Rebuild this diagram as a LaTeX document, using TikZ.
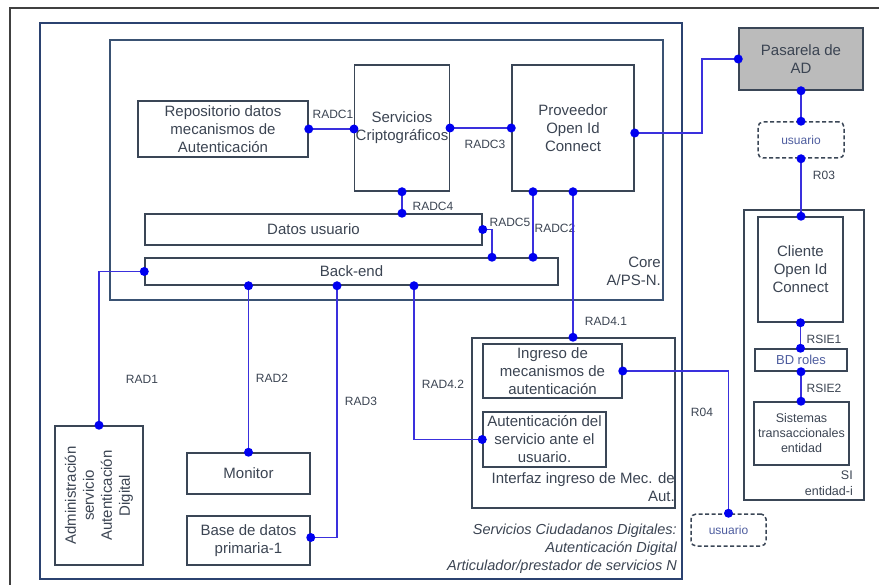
\documentclass[tikz,border=0pt]{standalone}
\usepackage{fontspec}
\setmainfont{Liberation Sans}
\usetikzlibrary{positioning}
\definecolor{txtcol}{HTML}{3B4452}
\definecolor{boxcol}{HTML}{3A4656}
\definecolor{framecol}{HTML}{2B4270}
\definecolor{corecol}{HTML}{3A5273}
\definecolor{usercol}{HTML}{4D5C9E}
\definecolor{conncol}{HTML}{3A30DD}
\definecolor{pincol}{HTML}{0000F0}
\definecolor{gatecol}{HTML}{BBBBBB}
\begin{document}
\begin{tikzpicture}[x=1pt, y=-1pt,
  box/.style={draw=boxcol, line width=1.5pt, text=txtcol, align=center, inner sep=1pt,
    font=\fontsize{15}{18}\selectfont},
  outline/.style={draw=framecol, line width=2pt, inner sep=0pt},
  user/.style={box, dashed, dash pattern=on 4pt off 2.5pt, rounded corners=5pt, text=usercol,
    font=\fontsize{12}{14}\selectfont},
  conn/.style={draw=conncol, line width=1.5pt},
  pin/.style={circle, fill=pincol, inner sep=0pt, minimum size=9pt},
  lbl/.style={text=txtcol, inner sep=0pt, font=\fontsize{12}{14}\selectfont}]
\useasboundingbox (0,0) rectangle (879,585);

% Frames
\draw[black!75, line width=1.5pt] (10,585) -- (10,8) -- (879,8);
\node[outline, minimum width=642, minimum height=556] (art) at (361,301) {};
\node[outline, draw=corecol, minimum width=553, minimum height=260] (core) at (386.5,170) {};
\node[outline, draw=boxcol, line width=1.5pt, minimum width=120, minimum height=290] (si) at (804,355) {};
\node[outline, draw=boxcol, line width=1.5pt, minimum width=203, minimum height=170] (intf) at (573.5,423) {};

% Boxes
\node[box, minimum width=170, minimum height=56] (repo) at (223,129) {Repositorio datos\\mecanismos de\\Autenticación};
\node[box, minimum width=94, minimum height=126] (crypto) at (402,128) {Servicios\\Criptográficos};
\node[box, minimum width=122, minimum height=126] (prov) at (573,128) {Proveedor\\Open Id\\Connect};
\node[box, minimum width=337, minimum height=31] (datos) at (313.5,229.5) {Datos usuario};
\node[box, minimum width=413, minimum height=27] (back) at (351.5,271.5) {Back-end};
\node[box, fill=gatecol, minimum width=124, minimum height=62] (pas) at (801,59) {Pasarela de\\AD};
\node[user, minimum width=86, minimum height=36] (usu1) at (801,140) {usuario};
\node[box, minimum width=85, minimum height=105] (cli) at (800.5,269.5) {Cliente\\Open Id\\Connect};
\node[box, text=usercol, font=\fontsize{13}{15}\selectfont, minimum width=92, minimum height=22] (bd) at (801,360) {BD roles};
\node[box, font=\fontsize{12.5}{15}\selectfont, minimum width=95, minimum height=63] (sis) at (801.5,433.5) {Sistemas\\transaccionales\\entidad};
\node[box, minimum width=139, minimum height=54] (ing) at (552.5,371) {Ingreso de\\mecanismos de\\autenticación};
\node[box, minimum width=123, minimum height=55] (aut) at (544.5,439.5) {Autenticación del\\servicio ante el\\usuario.};
\node[user, minimum width=75, minimum height=32] (usu2) at (728.5,530) {usuario};
\node[box, minimum width=88, minimum height=139] (admin) at (99,495.5) {};
\node[text=txtcol, rotate=90, align=center, font=\fontsize{15}{18}\selectfont] (admintxt) at (admin.center) {Administración\\servicio\\Autenticación\\Digital};
\node[box, minimum width=123, minimum height=41] (mon) at (248.5,473.5) {Monitor};
\node[box, minimum width=123, minimum height=49] (base) at (248.5,540.5) {Base de datos\\primaria-1};

% Frame labels
\node[lbl, font=\fontsize{15}{18}\selectfont, align=right, anchor=east] (corelbl) at (661,271) {Core\\A/PS-N.};
\node[lbl, font=\fontsize{15}{18}\selectfont, align=right, anchor=east] (intflbl) at (675,487) {Interfaz ingreso de Mec. de\\Aut.};
\node[lbl, font=\fontsize{12.5}{16}\selectfont, align=right, anchor=east] (silbl) at (853,483) {SI\\entidad-i};
\node[lbl, font=\fontsize{14.5}{18}\selectfont\itshape, align=right, anchor=east] (artlbl) at (677,549) {Servicios Ciudadanos Digitales:\\Autenticación Digital\\Articulador/prestador de servicios N};

% Connector labels
\node[lbl] (l1) at (333,114) {RADC1};
\node[lbl] (l3) at (485,144) {RADC3};
\node[lbl] (l4) at (433,206) {RADC4};
\node[lbl] (l5) at (510,222) {RADC5};
\node[lbl] (l2) at (555,228) {RADC2};
\node[lbl] (l41) at (606,321) {RAD4.1};
\node[lbl] (r1) at (142,379) {RAD1};
\node[lbl] (r2) at (272,378) {RAD2};
\node[lbl] (r3) at (361,401) {RAD3};
\node[lbl] (l42) at (443,384) {RAD4.2};
\node[lbl] (r04) at (702,412) {R04};
\node[lbl] (r03) at (824,175) {R03};
\node[lbl] (s1) at (824,339) {RSIE1};
\node[lbl] (s2) at (824,388) {RSIE2};

% Knees
\coordinate (kneeP) at (702,0);
\coordinate (c5) at (492,0);
\coordinate (c2) at (533,0);
\coordinate (c3) at (337,0);
\coordinate (c4) at (414,0);

% Connectors
\draw[conn] (repo.east) node[pin]{} -- (crypto.west |- repo.east) node[pin]{};
\draw[conn] (crypto.east) node[pin]{} -- (prov.west) node[pin]{};
\draw[conn] ([yshift=-5pt]prov.east) node[pin]{} -| (kneeP |- pas.west) -- (pas.west) node[pin]{};
\draw[conn] (pas.south) node[pin]{} -- (usu1.north) node[pin]{};
\draw[conn] (usu1.south) node[pin]{} -- (usu1.south |- cli.north) node[pin]{};
\draw[conn] (crypto.south) node[pin]{} -- (crypto.south |- datos.north) node[pin]{};
\draw[conn] (datos.east) node[pin]{} -| (c5 |- back.north) node[pin]{};
\draw[conn] (c2 |- prov.south) node[pin]{} -- (c2 |- back.north) node[pin]{};
\draw[conn] (prov.south) node[pin]{} -- (prov.south |- intf.north) node[pin]{};
\draw[conn] (back.west) node[pin]{} -| (admin.north) node[pin]{};
\draw[conn] (mon.north |- back.south) node[pin]{} -- (mon.north) node[pin]{};
\draw[conn] (c3 |- back.south) node[pin]{} |- ([yshift=3pt]base.east) node[pin]{};
\draw[conn] (c4 |- back.south) node[pin]{} |- (aut.west) node[pin]{};
\draw[conn] (ing.east) node[pin]{} -| (usu2.north) node[pin]{};
\draw[conn] (cli.south) node[pin]{} -- (cli.south |- bd.north) node[pin]{};
\draw[conn] (bd.south) node[pin]{} -- (bd.south |- sis.north) node[pin]{};
\end{tikzpicture}
\end{document}
